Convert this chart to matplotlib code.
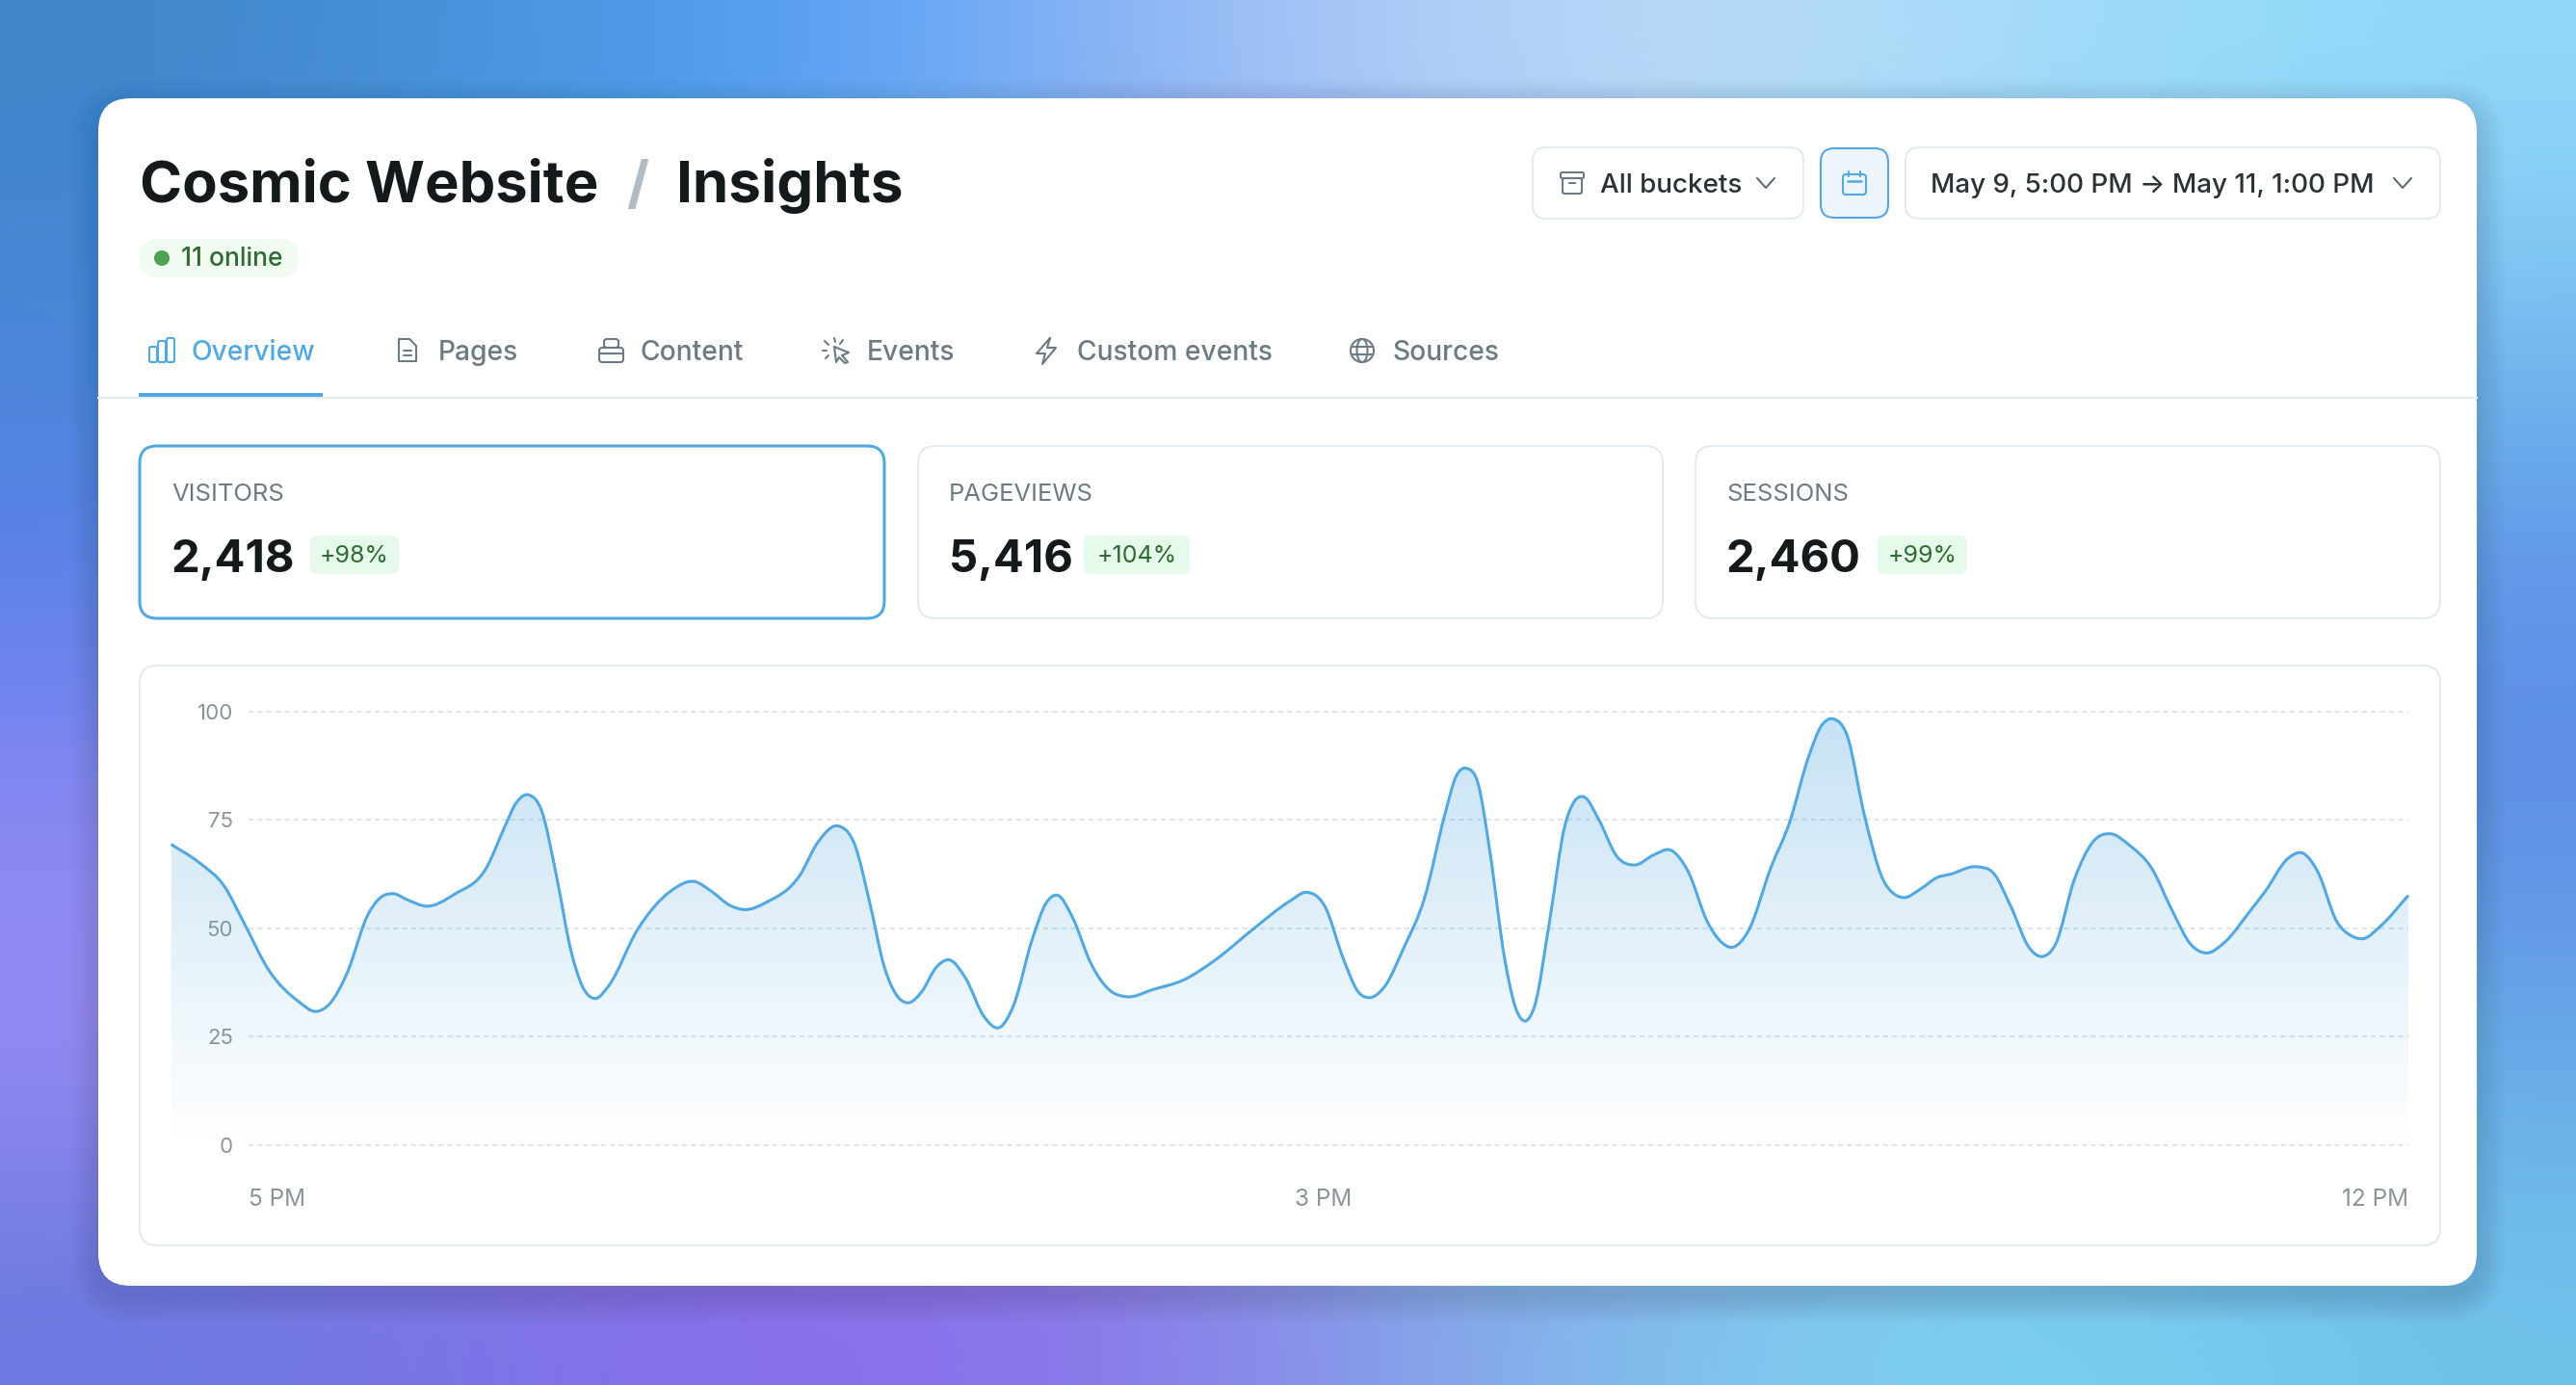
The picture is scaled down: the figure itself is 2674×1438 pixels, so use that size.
import numpy as np
import matplotlib
matplotlib.use("Agg")
import matplotlib.pyplot as plt
from matplotlib.patches import FancyBboxPatch, PathPatch, Circle, Ellipse
from matplotlib.path import Path
from matplotlib.colors import LinearSegmentedColormap

plt.rcParams["font.family"] = ["Inter", "DejaVu Sans"]

W, H = 2674, 1438

# chart values, hours since May 9 5 PM and visitors
hours = [0, .55, 1.06, 1.42, 1.93, 2.51, 2.84, 3.13, 3.45, 3.88, 4.10, 4.35, 4.68, 5.02, 5.58, 6.20,
         6.57, 6.78, 7.03, 7.29, 7.58, 7.87, 8.09, 8.35, 8.60, 9.18, 9.83, 10.29, 10.62, 10.99, 11.28,
         11.71, 12.36, 12.73, 13.13, 13.45, 13.74, 14.03, 14.25, 14.50, 14.76, 15.05, 15.31, 15.63,
         15.99, 16.31, 16.57, 16.93, 17.22, 17.44, 17.73, 18.09, 18.45, 18.80, 19.32, 19.90, 20.55,
         21.28, 22.02, 22.32, 22.69, 23.06, 23.35, 23.57, 23.87, 24.24, 24.65, 25.05, 25.27, 25.49,
         25.71, 25.93, 26.23, 26.45, 26.62, 26.82, 27.11, 27.41, 27.60, 27.79, 28.07, 28.44, 28.78,
         29.17, 29.50, 29.84, 30.21, 30.50, 30.69, 31.02, 31.46, 31.83, 32.20, 32.46, 32.70, 32.96,
         33.30, 33.67, 33.89, 34.08, 34.41, 34.73, 35.00, 35.51, 35.85, 36.18, 36.55, 36.81, 37.06,
         37.43, 37.80, 38.15, 38.51, 38.95, 39.35, 39.72, 40.04, 40.38, 40.90, 41.19, 41.63, 41.93,
         42.22, 42.59, 42.89, 43.11, 43.47, 44.00]
visitors = [69.4, 65.2, 59.5, 51.6, 40.2, 33.1, 30.8, 32.7, 39.3, 53.3, 56.9, 58.0, 56.4, 55.1, 57.9, 63.9,
            73.6, 78.8, 80.8, 77.1, 62.1, 44.6, 36.6, 33.8, 36.6, 49.8, 58.6, 60.8, 58.6, 55.3, 54.3,
            56.0, 62.1, 70.0, 73.6, 69.2, 56.0, 41.0, 34.9, 32.8, 35.3, 41.0, 42.7, 38.4,
            29.6, 27.2, 32.2, 47.2, 56.0, 57.6, 52.5, 41.9, 35.8, 34.2, 35.9, 38.0, 42.8,
            49.8, 56.4, 58.3, 55.1, 42.8, 35.3, 34.0, 36.6, 45.4, 56.9, 76.2, 85.0, 86.9,
            83.2, 68.3, 42.8, 31.4, 28.6, 32.2, 51.6, 73.6, 79.3, 80.3, 75.3, 66.5, 64.6,
            67.0, 68.0, 63.0, 51.6, 46.7, 45.6, 49.4, 63.9, 74.4, 89.4, 96.8, 98.3, 94.6,
            76.2, 61.2, 57.9, 57.1, 59.1, 61.7, 62.5, 64.2, 62.6, 55.1, 45.4, 43.5, 46.3,
            61.2, 70.0, 71.8, 69.2, 63.9, 54.2, 46.3, 44.3, 46.7, 54.2, 58.6, 66.1, 67.3,
            63.0, 51.6, 48.2, 47.6, 50.7, 57.6]
y_ticks = [0, 25, 50, 75, 100]
x_tick_hours = [1.525, 22.67, 44]
x_tick_labels = ["5 PM", "3 PM", "12 PM"]

tab_names = ["Overview", "Pages", "Content", "Events", "Custom events", "Sources"]
tab_x = [199, 455, 665, 900, 1118, 1445]
metric_names = ["VISITORS", "PAGEVIEWS", "SESSIONS"]
metric_values = ["2,418", "5,416", "2,460"]
metric_changes = ["+98%", "+104%", "+99%"]

BLUE = "#52a8e0"
BORDER = "#e3ebf0"
GREEN_TEXT = "#2f6b33"
GREY_TEXT = "#6c7a83"
DARK = "#14191c"

# rough colours of the blurred page background, coarse grid
bg_grid = [
    ["#3f86c9", "#4a93da", "#55a0f6", "#8db5f5", "#b7d0f7", "#b9dcf8", "#9fdcf9", "#90d9f9"],
    ["#4a86d8", "#4f92e6", "#5a9cee", "#86b0ee", "#a4c6f0", "#9fd0f2", "#80c6f0", "#72baee"],
    ["#5a80ea", "#6a8cec", "#7a98ea", "#8fa8e8", "#98b4e8", "#86a8e8", "#6a9cea", "#5f94e8"],
    ["#8a88f3", "#8f8cf0", "#9090ea", "#9498e4", "#8f9ee4", "#7c9ae6", "#6490e6", "#5f8ce6"],
    ["#9b8cf5", "#9488f0", "#8f84ea", "#8c8ce4", "#88a0e4", "#78aee6", "#6ab0e8", "#68a8e8"],
    ["#6a7ae0", "#7c74e6", "#8a6cec", "#8a78ea", "#86a8ea", "#80ccee", "#7cd2f0", "#70c2ea"],
]


def box(ax, x0, y0, x1, y1, r, fc="white", ec="none", lw=0, z=3, **kw):
    p = FancyBboxPatch((x0, y0), x1 - x0, y1 - y0, boxstyle="round,pad=0,rounding_size=%s" % r,
                       fc=fc, ec=ec, lw=lw, zorder=z, **kw)
    ax.add_patch(p)
    return p


def stroke(ax, pts, color, lw=2.0, z=5):
    xs, ys = zip(*pts)
    ax.plot(xs, ys, color=color, lw=lw, solid_capstyle="round", solid_joinstyle="round", zorder=z)


def chevron(ax, cx, cy):
    stroke(ax, [(cx - 9, cy - 5), (cx, cy + 5), (cx + 9, cy - 5)], "#5f6b73", 1.5)


def smooth_path(x, y):
    # bezier segments through the read points, tangents from the neighbours
    x = np.asarray(x, float)
    y = np.asarray(y, float)
    h = np.diff(x)
    s = np.diff(y) / h
    m = np.zeros(len(x))
    m[0], m[-1] = s[0], s[-1]
    for i in range(1, len(x) - 1):
        m[i] = (h[i] * s[i - 1] + h[i - 1] * s[i]) / (h[i] + h[i - 1])
    verts = [(x[0], y[0])]
    codes = [Path.MOVETO]
    for i in range(len(h)):
        verts += [(x[i] + h[i] / 3, y[i] + m[i] * h[i] / 3),
                  (x[i + 1] - h[i] / 3, y[i + 1] - m[i + 1] * h[i] / 3),
                  (x[i + 1], y[i + 1])]
        codes += [Path.CURVE4] * 3
    return verts, codes


def draw_icons(ui):
    grey = "#6c7a83"
    # overview bars
    box(ui, 155, 360, 163, 376, 2, fc="none", ec=BLUE, lw=1.5, z=5)
    box(ui, 164, 354, 172, 376, 2, fc="none", ec=BLUE, lw=1.5, z=5)
    box(ui, 173, 351, 181, 376, 2, fc="none", ec=BLUE, lw=1.5, z=5)
    # pages
    stroke(ui, [(414, 352), (425, 352), (432, 359), (432, 375), (414, 375), (414, 352)], grey, 1.5)
    stroke(ui, [(419, 364), (427, 364)], grey, 1.5)
    stroke(ui, [(419, 369), (427, 369)], grey, 1.5)
    # content
    box(ui, 622, 361, 647, 376, 3, fc="none", ec=grey, lw=1.5, z=5)
    box(ui, 627, 352, 642, 361, 3, fc="none", ec=grey, lw=1.5, z=5)
    stroke(ui, [(622, 367), (647, 367)], grey, 1.5)
    # events
    stroke(ui, [(866, 360), (881, 366), (874, 369), (880, 376), (877, 377), (871, 371), (868, 376), (866, 360)], grey, 1.5)
    for a, b in [((866, 351), (867, 355)), ((856, 354), (860, 358)), ((854, 364), (858, 364)), ((875, 353), (872, 357)), ((857, 372), (860, 369))]:
        stroke(ui, [a, b], grey, 1.5)
    # custom events bolt
    stroke(ui, [(1090, 351), (1076, 367), (1085, 367), (1082, 378), (1096, 361), (1087, 361), (1090, 351)], grey, 1.5)
    # sources globe
    ui.add_patch(Circle((1414, 364), 12, fc="none", ec=grey, lw=1.5, zorder=5))
    ui.add_patch(Ellipse((1414, 364), 11, 24, fc="none", ec=grey, lw=1.5, zorder=5))
    stroke(ui, [(1403, 360), (1425, 360)], grey, 1.5)
    stroke(ui, [(1403, 368), (1425, 368)], grey, 1.5)
    # archive on the buckets button
    box(ui, 1620, 179, 1644, 185, 1.5, fc="none", ec=grey, lw=1.5, z=5)
    box(ui, 1622, 185, 1642, 201, 2, fc="none", ec=grey, lw=1.5, z=5)
    stroke(ui, [(1629, 190), (1635, 190)], grey, 1.5)
    # calendar
    box(ui, 1913, 181, 1937, 202, 3, fc="none", ec=BLUE, lw=1.5, z=5)
    stroke(ui, [(1919, 178), (1919, 183)], BLUE, 1.5)
    stroke(ui, [(1931, 178), (1931, 183)], BLUE, 1.5)
    stroke(ui, [(1918, 188), (1932, 188)], BLUE, 1.8)


def main():
    fig = plt.figure(figsize=(W / 100, H / 100), dpi=100)
    ui = fig.add_axes([0, 0, 1, 1])
    ui.set_xlim(0, W)
    ui.set_ylim(H, 0)
    ui.axis("off")

    # page background
    rgb = np.array([[matplotlib.colors.to_rgb(c) for c in row] for row in bg_grid])
    ui.imshow(rgb, extent=(0, W, H, 0), aspect="auto", interpolation="bicubic", zorder=0)
    ui.set_xlim(0, W)
    ui.set_ylim(H, 0)

    # card with a soft shadow
    for grow in range(1, 30, 2):
        box(ui, 102 - grow, 102 - grow + 10, 2571 + grow, 1335 + grow + 10, 34 + grow,
            fc="#1a2a50", alpha=0.009, z=1)
    box(ui, 102, 102, 2571, 1335, 34, z=2)

    # header
    ui.text(145, 210, "Cosmic Website", fontsize=43, fontweight="bold", color=DARK, zorder=5)
    ui.text(650, 210, "/", fontsize=43, fontweight="bold", color="#b2bdc3", zorder=5)
    ui.text(702, 210, "Insights", fontsize=43.3, fontweight="bold", color=DARK, zorder=5)

    box(ui, 145, 248, 310, 288, 20, fc="#f1fbf1")
    ui.add_patch(Circle((168, 268), 8, fc="#4f9f54", ec="none", zorder=5))
    ui.text(188, 276, "11 online", fontsize=19, fontweight="medium", color=GREEN_TEXT, zorder=5)

    # buttons
    box(ui, 1591, 153, 1872, 227, 14, ec=BORDER, lw=1.5)
    ui.text(1661, 200, "All buckets", fontsize=20, fontweight="medium", color="#2b3236", zorder=5)
    chevron(ui, 1833, 190)
    box(ui, 1890, 154, 1960, 226, 14, fc="#edf5fb", ec=BLUE, lw=1.5)
    box(ui, 1978, 153, 2533, 227, 14, ec=BORDER, lw=1.5)
    ui.text(2004, 200, "May 9, 5:00 PM → May 11, 1:00 PM", fontsize=20, fontweight="medium", color="#2b3236", zorder=5)
    chevron(ui, 2494, 190)

    # tabs
    for i, (name, x) in enumerate(zip(tab_names, tab_x)):
        ui.text(x, 374, name, fontsize=20.3, fontweight="medium", color=BLUE if i == 0 else GREY_TEXT, zorder=5)
    ui.plot([102, 2571], [413, 413], color="#e3ecf0", lw=1.5, zorder=3)
    ui.add_patch(plt.Rectangle((144, 408), 191, 4, fc=BLUE, ec="none", zorder=4))
    draw_icons(ui)

    # metric cards
    card_x = [(145, 918), (953, 1726), (1760, 2533)]
    num_x = [178, 985, 1792]
    badge_x = [(322, 414), (1125, 1235), (1949, 2042)]
    for i in range(3):
        selected = i == 0
        box(ui, card_x[i][0], 463, card_x[i][1], 642, 18, ec=BLUE if selected else BORDER, lw=2.2 if selected else 1.5)
        ui.text(num_x[i], 520, metric_names[i], fontsize=18.4, color=GREY_TEXT, zorder=5)
        ui.text(num_x[i], 594, metric_values[i], fontsize=34, fontweight="bold", color=DARK, zorder=5)
        box(ui, badge_x[i][0], 556, badge_x[i][1], 596, 8, fc="#e5faea")
        ui.text(sum(badge_x[i]) / 2, 584, metric_changes[i], fontsize=18, ha="center", color=GREEN_TEXT, zorder=5)

    # chart panel
    box(ui, 145, 691, 2533, 1293, 18, ec=BORDER, lw=1.5)

    ax = fig.add_axes([177.5 / W, 1 - 1188.7 / H, (2500 - 177.5) / W, (1188.7 - 738.9) / H])
    ax.set_xlim(0, 44)
    ax.set_ylim(0, 100)
    ax.patch.set_alpha(0)
    for s in ax.spines.values():
        s.set_visible(False)

    ax.hlines(y_ticks, x_tick_hours[0], 44, color="#dce5ea", lw=1.5, linestyles=(0, (2.5, 2)), zorder=1, clip_on=False)

    ax.set_yticks(y_ticks)
    ax.tick_params(axis="y", length=0, pad=-46.4, labelsize=16, labelcolor="#8a9499")
    ax.set_xticks(x_tick_hours)
    ax.set_xticklabels(x_tick_labels)
    ax.tick_params(axis="x", length=0, pad=32.5, labelsize=17.5, labelcolor="#8a9499")
    ticks = ax.get_xticklabels()
    ticks[0].set_ha("left")
    ticks[2].set_ha("right")

    verts, codes = smooth_path(hours, visitors)
    area_verts = verts + [(hours[-1], 0), (hours[0], 0), (hours[0], visitors[0])]
    area_codes = codes + [Path.LINETO, Path.LINETO, Path.LINETO]
    area = PathPatch(Path(area_verts, area_codes), fc="none", ec="none", transform=ax.transData)
    ax.add_patch(area)

    # fill fades from the line colour to nothing at the baseline
    cmap = LinearSegmentedColormap.from_list("fade", [(0.322, 0.659, 0.878, 0.0), (0.322, 0.659, 0.878, 0.33)])
    grad = ax.imshow(np.linspace(1, 0, 256).reshape(-1, 1), extent=(0, 44, 0, max(visitors)), aspect="auto",
                     cmap=cmap, vmin=0, vmax=1, zorder=2)
    grad.set_clip_path(area)
    ax.set_xlim(0, 44)
    ax.set_ylim(0, 100)

    ax.add_patch(PathPatch(Path(verts, codes), fc="none", ec=BLUE, lw=2.2, zorder=3, clip_on=False))

    fig.savefig("out.png", dpi=100)


if __name__ == "__main__":
    main()
